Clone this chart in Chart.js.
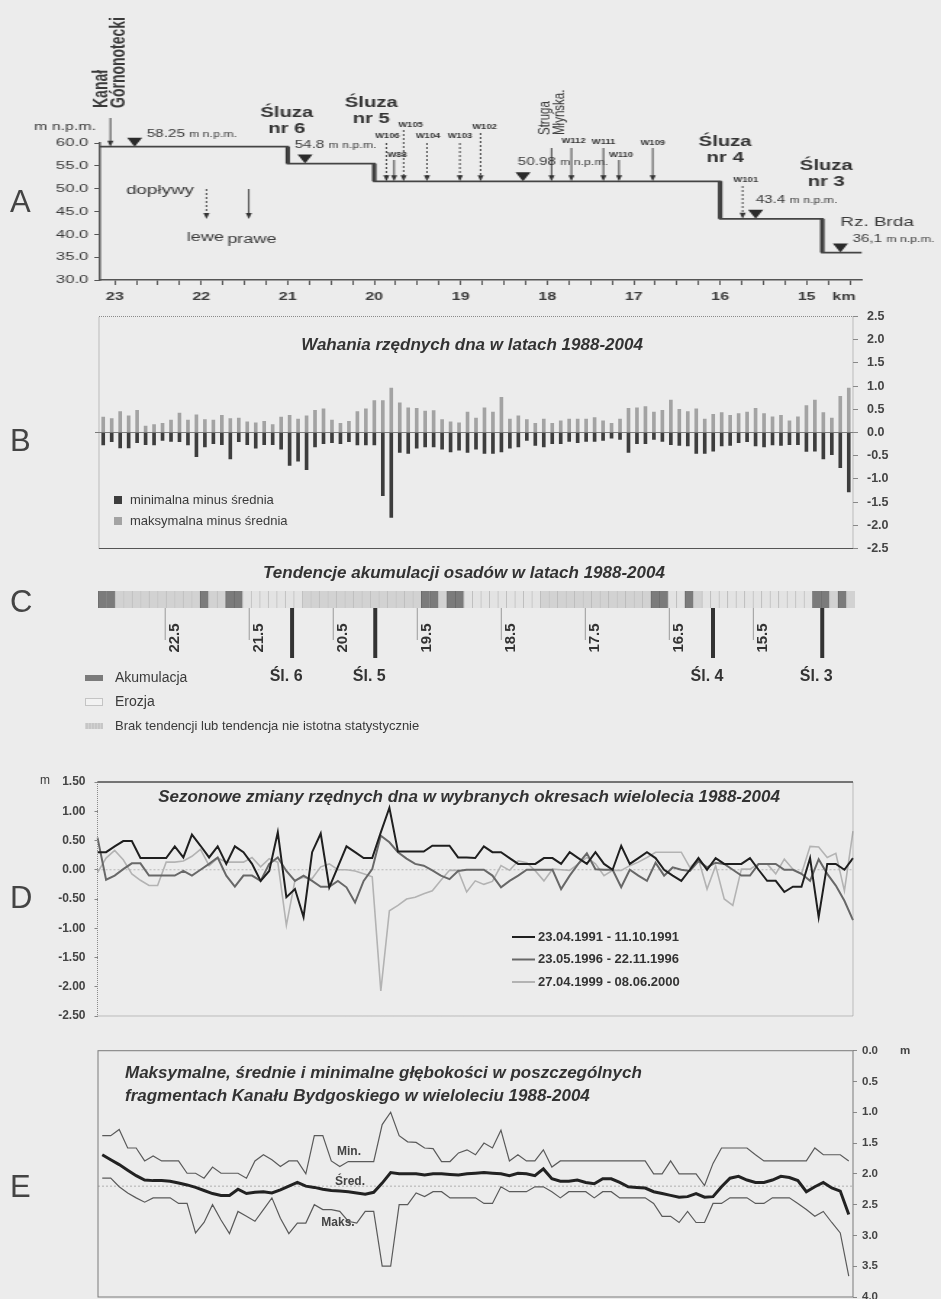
<!DOCTYPE html>
<html lang="pl">
<head>
<meta charset="utf-8">
<title>Kanał Bydgoski 1988-2004</title>
<script src="https://cdn.jsdelivr.net/npm/chart.js@4.4.1/dist/chart.umd.min.js"></script>
<style>
  html, body { margin: 0; padding: 0; background: #ececec; }
  #page { position: relative; width: 941px; height: 1299px; overflow: hidden; background: #ececec; }
  #page > canvas { position: absolute; left: 0; }
  .stretch { position: absolute; left: 0; top: 0; width: 649px; height: 310px; transform: scaleX(1.45); transform-origin: 0 0; }
  .letter { position: absolute; left: 10px; font: 31px "Liberation Sans", Arial, sans-serif; line-height: 31px; color: #444; }
</style>
</head>
<body>
<div id="page">
  <div class="stretch"><canvas id="chartA" width="649" height="310"></canvas></div>
  <canvas id="chartB" width="941" height="265" style="top:300px"></canvas>
  <canvas id="chartC" width="941" height="180" style="top:560px"></canvas>
  <canvas id="chartD" width="941" height="280" style="top:760px"></canvas>
  <canvas id="chartE" width="941" height="280" style="top:1030px"></canvas>
  <div class="letter" style="top:186px">A</div>
  <div class="letter" style="top:425px">B</div>
  <div class="letter" style="top:586px">C</div>
  <div class="letter" style="top:882px">D</div>
  <div class="letter" style="top:1171px">E</div>
</div>
<script>
// --- data: A, longitudinal profile ---
const aKmTicks = [23, 22, 21, 20, 19, 18, 17, 16, 15];
const aLevelTicks = [30, 35, 40, 45, 50, 55, 60];
const aStepKm = [23.17, 21, 20, 16, 14.82, 14.36];
const aBedLevel = [59.2, 55.5, 51.6, 43.4, 36.0];
const aLockNames = ['nr 6', 'nr 5', 'nr 4', 'nr 3'];
const aWaterKm = [22.77, 20.8, 18.28, 15.59, 14.61];
const aWaterText = ['58.25', '54.8', '50.98', '43.4', '36,1'];
const aTribNames = ['W106', 'W88', 'W105', 'W104', 'W103', 'W102', 'W112', 'W111', 'W110', 'W109', 'W101'];
const aTribKm = [19.86, 19.77, 19.66, 19.39, 19.01, 18.77, 17.72, 17.35, 17.17, 16.78, 15.74];
const aTribDashed = [true, false, true, true, true, true, false, false, false, false, true];
const aInflowNames = ['lewe', 'prawe'];
const aInflowKm = [21.94, 21.45];
const aInflowDashed = [true, false];
const aCanalKm = 23.05;
const aStrugaKm = 17.95;

// --- data: B, bed level fluctuations (m) per 100 m section ---
const sections = Array.from({ length: 89 }, (_, i) => i + 1);
const bTicks = [2.5, 2, 1.5, 1, 0.5, 0, -0.5, -1, -1.5, -2, -2.5];
const bMinDev = [-0.27, -0.2, -0.33, -0.33, -0.22, -0.26, -0.27, -0.17, -0.19, -0.2,
  -0.27, -0.52, -0.31, -0.24, -0.26, -0.57, -0.2, -0.26, -0.34, -0.26,
  -0.26, -0.36, -0.71, -0.62, -0.8, -0.31, -0.24, -0.22, -0.24, -0.2,
  -0.27, -0.27, -0.27, -1.36, -1.83, -0.43, -0.45, -0.34, -0.31, -0.31,
  -0.36, -0.42, -0.38, -0.43, -0.36, -0.45, -0.45, -0.42, -0.34, -0.31,
  -0.17, -0.28, -0.31, -0.24, -0.24, -0.19, -0.22, -0.19, -0.19, -0.17,
  -0.12, -0.15, -0.43, -0.24, -0.24, -0.15, -0.19, -0.26, -0.28, -0.29,
  -0.45, -0.45, -0.4, -0.29, -0.28, -0.22, -0.2, -0.29, -0.31, -0.27,
  -0.28, -0.26, -0.26, -0.41, -0.4, -0.57, -0.48, -0.76, -1.28];
const bMaxDev = [0.33, 0.3, 0.45, 0.36, 0.48, 0.14, 0.17, 0.2, 0.27, 0.42,
  0.27, 0.38, 0.28, 0.27, 0.37, 0.3, 0.31, 0.23, 0.21, 0.24,
  0.17, 0.33, 0.37, 0.29, 0.36, 0.48, 0.51, 0.27, 0.2, 0.24,
  0.45, 0.51, 0.69, 0.69, 0.96, 0.64, 0.53, 0.52, 0.46, 0.47,
  0.28, 0.23, 0.21, 0.44, 0.31, 0.53, 0.44, 0.76, 0.29, 0.36,
  0.28, 0.2, 0.29, 0.2, 0.25, 0.29, 0.29, 0.29, 0.32, 0.25,
  0.2, 0.29, 0.52, 0.53, 0.56, 0.44, 0.48, 0.7, 0.5, 0.45,
  0.51, 0.29, 0.39, 0.43, 0.37, 0.41, 0.44, 0.52, 0.41, 0.34,
  0.37, 0.25, 0.34, 0.58, 0.7, 0.43, 0.31, 0.78, 0.96];

// --- data: C, sediment trend per section (A akumulacja, E erozja, B brak) ---
const cTrendRuns = [['A', 2], ['B', 10], ['A', 1], ['B', 2], ['A', 2], ['E', 7], ['B', 14], ['A', 2], ['B', 1], ['A', 2],
  ['E', 9], ['B', 13], ['A', 2], ['E', 2], ['A', 1], ['B', 1], ['E', 13], ['A', 2], ['B', 1], ['A', 1], ['B', 1]];
const cKmTicks = [22.5, 21.5, 20.5, 19.5, 18.5, 17.5, 16.5, 15.5];
const cLockKm = [20.99, 20.0, 15.98, 14.68];
const cLockNames = ['Śl. 6', 'Śl. 5', 'Śl. 4', 'Śl. 3'];
const cLegendNames = ['Akumulacja', 'Erozja', 'Brak tendencji lub tendencja nie istotna statystycznie'];

// --- data: D, seasonal changes (m) ---
const dTicks = [1.5, 1, 0.5, 0, -0.5, -1, -1.5, -2, -2.5];
const dSeriesNames = ['23.04.1991 - 11.10.1991', '23.05.1996 - 22.11.1996', '27.04.1999 - 08.06.2000'];
const d1991 = [0.3, 0.3, 0.4, 0.49, 0.49, 0.2, 0.2, 0.2, 0.2, 0.4,
  0.21, 0.6, 0.41, 0.21, 0.4, 0.1, 0.4, 0.3, 0.1, -0.19,
  -0.02, 0.64, -0.47, -0.33, -0.81, 0.3, 0.62, -0.3, 0.05, 0.4,
  0.3, 0.2, 0.2, 0.64, 1.06, 0.31, 0.31, 0.31, 0.31, 0.41,
  0.41, 0.41, 0.21, 0.21, 0.2, 0.4, 0.3, 0.3, 0.2, 0.1,
  0.1, 0.1, 0.2, 0.2, 0.1, 0.3, 0.2, 0.1, 0.3, 0.1,
  0.0, 0.41, 0.1, 0.2, 0.3, 0.2, 0.0, -0.1, -0.19, 0.0,
  0.2, 0.0, 0.2, 0.1, 0.1, 0.1, 0.2, 0.0, -0.19, -0.19,
  -0.38, -0.29, -0.29, 0.2, -0.81, 0.1, 0.1, 0.0, 0.2];
const d1996 = [0.55, -0.17, -0.1, 0.01, 0.11, 0.11, -0.1, -0.1, -0.1, -0.1,
  -0.02, -0.1, 0.0, 0.1, 0.21, -0.1, -0.29, -0.1, -0.1, -0.19,
  0.1, 0.21, -0.02, -0.19, -0.1, -0.19, -0.29, -0.29, -0.19, -0.3,
  -0.56, -0.19, 0.01, 0.58, 0.47, 0.3, 0.19, 0.1, 0.07, -0.01,
  -0.1, -0.16, -0.02, 0.0, 0.0, 0.0, -0.1, -0.3, -0.19, -0.1,
  0.0, 0.0, 0.0, 0.0, -0.33, -0.1, 0.1, 0.28, 0.01, 0.0,
  0.0, -0.3, 0.0, -0.1, -0.19, 0.12, -0.1, 0.04, 0.0, -0.02,
  0.15, 0.04, 0.12, 0.1, 0.0, -0.1, -0.1, 0.1, 0.1, 0.1,
  0.0, 0.0, -0.07, -0.19, 0.18, -0.07, -0.27, -0.53, -0.86];
const d1999 = [-0.05, 0.2, 0.33, 0.17, -0.07, -0.18, -0.27, -0.27, 0.13, 0.13,
  0.15, 0.23, 0.35, 0.07, 0.2, 0.13, 0.13, 0.13, 0.21, 0.05,
  0.19, 0.13, -0.95, -0.18, -0.13, -0.15, 0.05, 0.1, 0.0, 0.0,
  -0.02, -0.07, -0.12, -2.07, -0.7, -0.61, -0.5, -0.47, -0.41, -0.36,
  -0.18, -0.01, -0.01, -0.38, -0.19, -0.25, -0.2, 0.07, -0.01, 0.15,
  0.12, -0.02, -0.19, 0.01, 0.0, -0.01, 0.1, 0.21, 0.1, -0.1,
  -0.01, -0.01, 0.07, 0.13, 0.21, 0.3, 0.3, 0.3, 0.3, 0.04,
  0.18, -0.33, 0.07, -0.5, -0.61, 0.01, 0.01, 0.1, 0.1, -0.07,
  0.18, 0.01, -0.07, 0.4, 0.39, 0.21, 0.28, -0.36, 0.66];

// --- data: E, depths (m) ---
const eTicks = [0, 0.5, 1, 1.5, 2, 2.5, 3, 3.5, 4];
const eMin = [1.38, 1.38, 1.28, 1.58, 1.58, 1.79, 1.71, 1.79, 1.79, 1.79,
  1.99, 1.99, 2.07, 1.89, 1.99, 1.99, 1.99, 2.07, 1.79, 1.69,
  1.77, 1.88, 1.79, 1.79, 2.0, 1.38, 1.38, 1.79, 1.88, 1.8,
  1.8, 1.8, 1.8, 1.2, 1.0, 1.38, 1.48, 1.49, 1.58, 1.59,
  1.8, 1.8, 1.66, 1.61, 1.69, 1.5, 1.58, 1.29, 1.79, 1.69,
  1.79, 1.79, 1.61, 1.89, 1.79, 1.79, 1.79, 1.79, 1.79, 1.79,
  1.79, 1.79, 1.79, 1.79, 1.79, 2.0, 2.0, 1.79, 2.0, 2.0,
  2.0, 2.19, 1.83, 1.58, 1.58, 1.58, 1.58, 1.69, 1.79, 1.79,
  1.79, 1.79, 1.79, 1.79, 1.58, 1.69, 1.69, 1.69, 1.79];
const eMean = [1.69, 1.77, 1.85, 1.94, 2.03, 2.1, 2.11, 2.11, 2.12, 2.15,
  2.18, 2.22, 2.27, 2.32, 2.35, 2.35, 2.25, 2.32, 2.3, 2.29,
  2.31, 2.26, 2.2, 2.14, 2.2, 2.22, 2.25, 2.27, 2.28, 2.29,
  2.31, 2.33, 2.3, 2.15, 1.98, 2.0, 2.0, 2.0, 2.02, 2.0,
  2.0, 2.01, 2.02, 2.0, 1.99, 1.98, 1.99, 2.0, 2.03, 1.99,
  2.0, 2.03, 1.92, 2.08, 2.12, 2.12, 2.1, 2.14, 2.16, 2.08,
  2.08, 2.14, 2.21, 2.22, 2.23, 2.29, 2.32, 2.35, 2.38, 2.37,
  2.32, 2.38, 2.37, 2.21, 2.07, 2.04, 2.1, 2.14, 2.14, 2.1,
  2.04, 2.06, 2.11, 2.29, 2.21, 2.14, 2.23, 2.28, 2.66];
const eMax = [2.07, 2.07, 2.21, 2.31, 2.39, 2.46, 2.39, 2.39, 2.39, 2.48,
  2.48, 2.96, 2.79, 2.5, 2.75, 2.97, 2.61, 2.69, 2.77, 2.58,
  2.39, 2.72, 2.97, 2.8, 2.8, 2.5, 2.58, 2.58, 2.61, 2.77,
  2.8, 2.61, 2.61, 3.5, 3.5, 2.5, 2.5, 2.31, 2.37, 2.29,
  2.29, 2.39, 2.39, 2.39, 2.39, 2.48, 2.48, 2.21, 2.29, 2.29,
  2.29, 2.21, 2.21, 2.29, 2.39, 2.29, 2.29, 2.29, 2.39, 2.29,
  2.29, 2.39, 2.39, 2.39, 2.39, 2.48, 2.69, 2.69, 2.79, 2.61,
  2.79, 2.79, 2.48, 2.48, 2.39, 2.39, 2.39, 2.48, 2.48, 2.39,
  2.39, 2.39, 2.48, 2.58, 2.69, 2.61, 2.79, 2.96, 3.66];
const eRefDepth = 2.2;

// --- layout of annotations (pixels) ---
const SX = 1.45; // panel A is stretched horizontally in the source
const aLockLabelY = [113, 103, 142, 166];
const aLockLabelDx = [-1, -3, 5, 4];
const aWaterLabelKm = [22.63, 20.92, 18.34, 15.59, 14.47];
const aWaterLabelY = [134, 145, 162, 200, 239];
const aTribTop = [143, 160, 130, 143, 143, 133, 148, 148, 160, 148, 186];
const aTribLabelY = [136, 155, 125, 136, 136, 127, 141, 142, 155, 143, 180];
const aTribLabelDx = [1, 3, 7, 1, 0, 4, 2, 0, 2, 0, 3];

Chart.defaults.font.family = '"Liberation Sans", Arial, sans-serif';
Chart.defaults.color = '#3a3a3a';
Chart.defaults.animation = false;
Chart.defaults.responsive = false;
Chart.defaults.plugins.legend.display = false;
Chart.defaults.plugins.tooltip.enabled = false;

const FONT = '"Liberation Sans", Arial, sans-serif';
const INK = '#3a3a3a';

// --- drawing helpers ---
function text(ctx, s, x, y, font, align, color) {
  ctx.save();
  ctx.font = font + ' ' + FONT;
  ctx.textAlign = align || 'left';
  ctx.textBaseline = 'middle';
  ctx.fillStyle = color || INK;
  ctx.fillText(s, x, y);
  ctx.restore();
}
function textUp(ctx, s, x, y, font, align, color) {
  ctx.save();
  ctx.translate(x, y);
  ctx.rotate(-Math.PI / 2);
  text(ctx, s, 0, 0, font, align, color);
  ctx.restore();
}
function seg(ctx, x1, y1, x2, y2, color, width, dash) {
  ctx.save();
  ctx.strokeStyle = color;
  ctx.lineWidth = width;
  ctx.setLineDash(dash || []);
  ctx.beginPath();
  ctx.moveTo(x1, y1);
  ctx.lineTo(x2, y2);
  ctx.stroke();
  ctx.restore();
}
function arrowDown(ctx, x, y1, y2, dashed) {
  seg(ctx, x, y1, x, y2 - 5, '#333', 0.9, dashed ? [2, 2] : null);
  ctx.save();
  ctx.fillStyle = '#333';
  ctx.beginPath();
  ctx.moveTo(x - 2.1, y2 - 6);
  ctx.lineTo(x + 2.1, y2 - 6);
  ctx.lineTo(x, y2);
  ctx.closePath();
  ctx.fill();
  ctx.restore();
}
function levelAt(km) {
  for (let j = 0; j < aBedLevel.length; j++) {
    if (km <= aStepKm[j] && km >= aStepKm[j + 1]) return aBedLevel[j];
  }
  return aBedLevel[aBedLevel.length - 1];
}
const fixedTicks = list => s => { s.ticks = list.map(v => ({ value: v })); };

// --- A ---
const aProfile = [];
aBedLevel.forEach((lv, j) => aProfile.push({ x: aStepKm[j], y: lv }, { x: aStepKm[j + 1], y: lv }));
const aLocks = [];
for (let j = 1; j < aBedLevel.length; j++) {
  aLocks.push({ x: aStepKm[j], y: aBedLevel[j - 1] }, { x: aStepKm[j], y: aBedLevel[j] }, { x: aStepKm[j], y: null });
}
const aMarks = aWaterKm.map(k => ({ x: k, y: levelAt(k) + 6 / 4.567 }));
const aMinor = [];
for (let k = 23; k >= 14.5; k -= 0.25) aMinor.push(k);

const aOverlay = {
  id: 'aOverlay',
  afterDraw(chart) {
    const { ctx, scales: { x, y } } = chart;
    const lineY = km => y.getPixelForValue(levelAt(km));
    text(ctx, 'm n.p.m.', 65 / SX, 127, '11px', 'center');
    // lock labels
    aLockNames.forEach((nm, i) => {
      const px = x.getPixelForValue(aStepKm[i + 1]) + aLockLabelDx[i] / SX;
      text(ctx, 'Śluza', px, aLockLabelY[i], 'bold 14px', 'center', '#333');
      text(ctx, nm, px, aLockLabelY[i] + 16, 'bold 14px', 'center', '#333');
    });
    // water levels
    aWaterText.forEach((t, i) => {
      const px = x.getPixelForValue(aWaterLabelKm[i]);
      ctx.save();
      ctx.font = '10.5px ' + FONT;
      const w = ctx.measureText(t + ' ').width;
      ctx.restore();
      text(ctx, t + ' ', px, aWaterLabelY[i], '10.5px');
      text(ctx, 'm n.p.m.', px + w, aWaterLabelY[i] + 1, '8.5px');
    });
    text(ctx, 'Rz. Brda', x.getPixelForValue(14.61), 222, '13px');
    // Kanał Górnonotecki
    const kx = x.getPixelForValue(aCanalKm);
    textUp(ctx, 'Kanał', kx - 9 / SX, 108, 'bold 14px');
    textUp(ctx, 'Górnonotecki', kx + 9 / SX, 108, 'bold 14px');
    arrowDown(ctx, kx, 118, lineY(aCanalKm), false);
    // inflows legend
    text(ctx, 'dopływy', x.getPixelForValue(22.87), 190, '13px');
    aInflowNames.forEach((nm, i) => {
      const px = x.getPixelForValue(aInflowKm[i]);
      arrowDown(ctx, px, 189, 219, aInflowDashed[i]);
      text(ctx, nm, px + (i ? 3 : -1) / SX, 238 + i * 2, '12.5px', 'center');
    });
    // tributaries
    aTribNames.forEach((nm, i) => {
      const px = x.getPixelForValue(aTribKm[i]);
      arrowDown(ctx, px, aTribTop[i], lineY(aTribKm[i]), aTribDashed[i]);
      text(ctx, nm, px + aTribLabelDx[i] / SX, aTribLabelY[i], 'bold 6.5px', 'center', '#333');
    });
    // Struga Młyńska
    const sx = x.getPixelForValue(aStrugaKm);
    textUp(ctx, 'Struga', sx - 6 / SX, 135, '11.5px');
    textUp(ctx, 'Młyńska.', sx + 8 / SX, 135, '11.5px');
    arrowDown(ctx, sx, 148, lineY(aStrugaKm), false);
    text(ctx, 'km', x.getPixelForValue(14.57), 297, 'bold 11px', 'center');
  }
};

new Chart(document.getElementById('chartA'), {
  type: 'line',
  data: {
    datasets: [
      { data: aProfile, borderColor: '#444', borderWidth: 1.8, pointRadius: 0 },
      { data: aLocks, borderColor: '#2a2a2a', borderWidth: 3, pointRadius: 0, spanGaps: false },
      { data: aMarks, showLine: false, pointStyle: 'triangle', rotation: 180, pointRadius: 6,
        backgroundColor: '#2a2a2a', borderWidth: 0, clip: false }
    ]
  },
  options: {
    layout: { padding: { top: 143, right: 54.5, left: 0, bottom: 0 } },
    scales: {
      x: {
        type: 'linear', reverse: true, min: 14.36, max: 23.17,
        afterFit: s => { s.height = 30; },
        afterBuildTicks: fixedTicks(aMinor),
        ticks: { callback: v => (aKmTicks.includes(v) ? String(v) : ''), autoSkip: false, maxRotation: 0,
                 font: { size: 11, weight: 'bold' }, color: INK, padding: 5 },
        grid: { drawOnChartArea: false, tickLength: 5, color: '#555' },
        border: { color: '#555', width: 1.5 }
      },
      y: {
        min: 30, max: 60,
        afterFit: s => { s.width = 69; },
        afterBuildTicks: fixedTicks(aLevelTicks),
        ticks: { callback: v => v.toFixed(1), font: { size: 11.5 }, color: INK, padding: 4 },
        grid: { drawOnChartArea: false, tickLength: 4, color: '#555' },
        border: { color: '#555', width: 1.5 }
      }
    }
  },
  plugins: [aOverlay]
});

// --- B ---
const bOverlay = {
  id: 'bOverlay',
  afterDraw(chart) {
    const { ctx, chartArea: a } = chart;
    ctx.save();
    ctx.strokeStyle = '#8a8a8a';
    ctx.lineWidth = 1;
    ctx.setLineDash([1, 1]);
    ctx.beginPath();
    ctx.moveTo(a.left, a.bottom);
    ctx.lineTo(a.left, a.top);
    ctx.lineTo(a.right, a.top);
    ctx.lineTo(a.right, a.bottom);
    ctx.stroke();
    ctx.restore();
    seg(ctx, a.left, a.bottom, a.right, a.bottom, '#555', 1.2);
    const y0 = chart.scales.y.getPixelForValue(0);
    seg(ctx, a.left - 4, y0, a.left, y0, '#7a7a7a', 1);
    text(ctx, 'Wahania rzędnych dna w latach 1988-2004', 472, 45, 'italic bold 17px', 'center', '#333');
    ctx.fillStyle = '#3d3d3d';
    ctx.fillRect(114, 196, 8, 8);
    ctx.fillStyle = '#a3a3a3';
    ctx.fillRect(114, 217, 8, 8);
    text(ctx, 'minimalna minus średnia', 130, 200, '13px');
    text(ctx, 'maksymalna minus średnia', 130, 221, '13px');
  }
};

new Chart(document.getElementById('chartB'), {
  type: 'bar',
  data: {
    labels: sections,
    datasets: [
      { data: bMinDev, backgroundColor: '#3d3d3d', barThickness: 3, grouped: false },
      { data: bMaxDev, backgroundColor: '#a3a3a3', barThickness: 3, grouped: false }
    ]
  },
  options: {
    layout: { padding: { top: 15.7, bottom: 13, left: 99, right: 0 } },
    scales: {
      x: { display: false },
      y: {
        position: 'right', min: -2.5, max: 2.5,
        afterFit: s => { s.width = 88; },
        afterBuildTicks: fixedTicks(bTicks),
        ticks: { callback: v => v.toFixed(1), font: { size: 12.5, weight: 'bold' }, color: '#444', padding: 9 },
        grid: { color: c => (c.tick && c.tick.value === 0 ? '#7a7a7a' : 'rgba(0,0,0,0)'), tickColor: '#888', tickLength: 5 },
        border: { display: false }
      }
    }
  },
  plugins: [bOverlay]
});

// --- C ---
const cTrend = [];
cTrendRuns.forEach(([c, n]) => { for (let k = 0; k < n; k++) cTrend.push(c); });
const cColors = { A: '#7b7b7b', E: '#e3e3e3', B: '#d2d2d2' };

const cOverlay = {
  id: 'cOverlay',
  afterDraw(chart) {
    const { ctx, chartArea: a } = chart;
    const km = chart.scales.km;
    text(ctx, 'Tendencje akumulacji osadów w latach 1988-2004', 464, 13, 'italic bold 17px', 'center', '#333');
    cKmTicks.forEach(v => {
      const px = km.getPixelForValue(v);
      seg(ctx, px, a.bottom, px, a.bottom + 32, '#9a9a9a', 1);
      textUp(ctx, v.toFixed(1), px + 10, 78, 'bold 15px', 'center', '#333');
    });
    cLockKm.forEach((v, i) => {
      const px = km.getPixelForValue(v);
      seg(ctx, px, a.bottom, px, a.bottom + 50, '#333', 4);
      text(ctx, cLockNames[i], px - 6, 117, 'bold 16px', 'center', '#333');
    });
    // legend
    const ly = [118, 142, 166];
    ctx.fillStyle = cColors.A;
    ctx.fillRect(85, ly[0] - 3, 18, 6);
    ctx.fillStyle = '#f2f2f2';
    ctx.fillRect(85, ly[1] - 3, 18, 6);
    ctx.save();
    ctx.strokeStyle = '#c4c4c4';
    ctx.lineWidth = 1;
    ctx.strokeRect(85.5, ly[1] - 3.5, 17, 7);
    ctx.restore();
    ctx.fillStyle = cColors.B;
    ctx.fillRect(85, ly[2] - 3, 18, 6);
    for (let xx = 87; xx < 103; xx += 3) seg(ctx, xx, ly[2] - 3, xx, ly[2] + 3, '#bbbbbb', 1);
    cLegendNames.forEach((nm, i) => text(ctx, nm, 115, ly[i], i === 2 ? '13px' : '14px'));
  }
};

new Chart(document.getElementById('chartC'), {
  type: 'bar',
  data: {
    labels: cTrend.map((_, i) => i + 1),
    datasets: [{
      data: cTrend.map(() => 1),
      backgroundColor: cTrend.map(c => cColors[c]),
      borderColor: cTrend.map(c => (c === 'A' ? '#6a6a6a' : '#bdbdbd')),
      borderWidth: { left: 1, right: 0, top: 0, bottom: 0 },
      borderSkipped: false,
      barPercentage: 1, categoryPercentage: 1
    }]
  },
  options: {
    layout: { padding: { top: 31, bottom: 132, left: 98, right: 86 } },
    scales: {
      x: { display: false },
      y: { display: false, min: 0, max: 1 },
      km: { type: 'linear', axis: 'x', display: false, offset: false, reverse: true, min: 14.29, max: 23.30 }
    }
  },
  plugins: [cOverlay]
});

// --- D ---
const dColors = ['#1f1f1f', '#686868', '#b3b3b3'];
const dOverlay = {
  id: 'dOverlay',
  beforeDatasetsDraw(chart) {
    const { ctx, chartArea: a, scales: { y } } = chart;
    const y0 = y.getPixelForValue(0);
    seg(ctx, a.left, y0, a.right, y0, '#b8b8b8', 1, [2, 2]);
  },
  afterDraw(chart) {
    const { ctx, chartArea: a } = chart;
    ctx.save();
    ctx.strokeStyle = '#8a8a8a';
    ctx.lineWidth = 1;
    ctx.setLineDash([1, 1]);
    ctx.strokeRect(a.left, a.top, a.right - a.left, a.bottom - a.top);
    ctx.restore();
    seg(ctx, a.left, a.top, a.right, a.top, '#555', 1.5);
    text(ctx, 'm', 40, 21, '12px');
    text(ctx, 'Sezonowe zmiany rzędnych dna w wybranych okresach wielolecia 1988-2004', 469, 37, 'italic bold 17px', 'center', '#333');
    dSeriesNames.forEach((nm, i) => {
      const ly = 177 + i * 22.5;
      seg(ctx, 512, ly, 535, ly, dColors[i], 2);
      text(ctx, nm, 538, ly, 'bold 13px', 'left', '#333');
    });
  }
};

new Chart(document.getElementById('chartD'), {
  type: 'line',
  data: {
    labels: sections,
    datasets: [
      { data: d1991, borderColor: dColors[0], borderWidth: 2 },
      { data: d1996, borderColor: dColors[1], borderWidth: 2 },
      { data: d1999, borderColor: dColors[2], borderWidth: 1.6 }
    ]
  },
  options: {
    elements: { point: { radius: 0 }, line: { tension: 0 } },
    layout: { padding: { top: 22, bottom: 24, left: 0, right: 88 } },
    scales: {
      x: { display: false },
      y: {
        min: -2.5, max: 1.5,
        afterFit: s => { s.width = 97.5; },
        afterBuildTicks: fixedTicks(dTicks),
        ticks: { callback: v => v.toFixed(2), font: { size: 12, weight: 'bold' }, color: '#444', padding: 9 },
        grid: { drawOnChartArea: false, tickLength: 3, color: '#888' },
        border: { display: false }
      }
    }
  },
  plugins: [dOverlay]
});

// --- E ---
const eOverlay = {
  id: 'eOverlay',
  beforeDatasetsDraw(chart) {
    const { ctx, chartArea: a, scales: { y } } = chart;
    const yr = y.getPixelForValue(eRefDepth);
    seg(ctx, a.left, yr, a.right, yr, '#b0b0b0', 1, [2, 2]);
  },
  afterDraw(chart) {
    const { ctx, chartArea: a } = chart;
    ctx.save();
    ctx.strokeStyle = '#7a7a7a';
    ctx.lineWidth = 1;
    ctx.strokeRect(a.left, a.top, a.right - a.left, a.bottom - a.top);
    ctx.restore();
    text(ctx, 'm', 905, 21, 'bold 11.5px', 'center', '#444');
    text(ctx, 'Maksymalne, średnie i minimalne głębokości w poszczególnych', 125, 43, 'italic bold 17px', 'left', '#333');
    text(ctx, 'fragmentach Kanału Bydgoskiego w wieloleciu 1988-2004', 125, 66, 'italic bold 17px', 'left', '#333');
    text(ctx, 'Min.', 349, 122, 'bold 12px', 'center', '#444');
    text(ctx, 'Śred.', 350, 152, 'bold 12px', 'center', '#444');
    text(ctx, 'Maks.', 338, 193, 'bold 12px', 'center', '#444');
  }
};

new Chart(document.getElementById('chartE'), {
  type: 'line',
  data: {
    labels: sections,
    datasets: [
      { data: eMean, borderColor: '#222', borderWidth: 3 },
      { data: eMin, borderColor: '#5a5a5a', borderWidth: 1.2 },
      { data: eMax, borderColor: '#5a5a5a', borderWidth: 1.2 }
    ]
  },
  options: {
    elements: { point: { radius: 0 }, line: { tension: 0 } },
    layout: { padding: { top: 20.7, bottom: 13, left: 98, right: 0 } },
    scales: {
      x: { display: false, offset: true },
      y: {
        position: 'right', reverse: true, min: 0, max: 4,
        afterFit: s => { s.width = 88; },
        afterBuildTicks: fixedTicks(eTicks),
        ticks: { callback: v => v.toFixed(1), font: { size: 11.5, weight: 'bold' }, color: '#444', padding: 5 },
        grid: { drawOnChartArea: false, tickLength: 4, color: '#888' },
        border: { display: false }
      }
    }
  },
  plugins: [eOverlay]
});
</script>
</body>
</html>
